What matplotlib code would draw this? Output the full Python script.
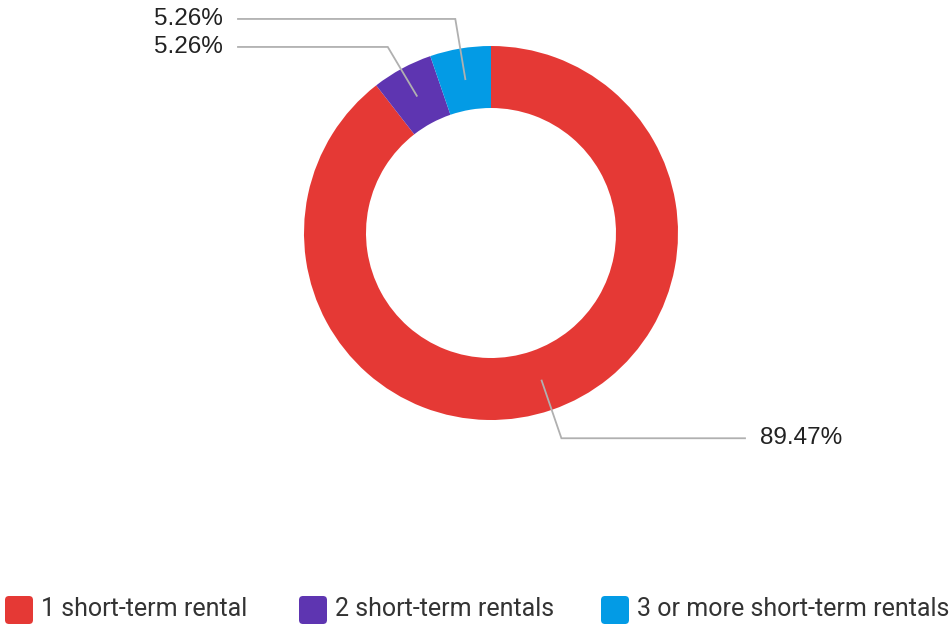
import numpy as np
import matplotlib
matplotlib.use("Agg")
import matplotlib.pyplot as plt
from matplotlib.patches import FancyBboxPatch

categories = ["1 short-term rental", "2 short-term rentals", "3 or more short-term rentals"]
shares = [89.47, 5.26, 5.26]
labels = ["89.47%", "5.26%", "5.26%"]
colors = ["#E53935", "#5E35B1", "#039BE5"]

W, H = 951, 625
fig = plt.figure(figsize=(W / 100, H / 100), dpi=100, facecolor="white")
ax = fig.add_axes([0, 0, 1, 1])

cx, cy = 491, H - 233
r_out, r_in = 187, 125

wedges, _ = ax.pie(shares, colors=colors, startangle=90, counterclock=False,
                   radius=r_out, center=(cx, cy),
                   wedgeprops=dict(width=r_out - r_in, edgecolor="none"))

ax.set_xlim(0, W)
ax.set_ylim(0, H)
ax.set_aspect("equal")
ax.axis("off")

# leader lines + labels; labels on one side pushed down so they don't collide
line_c = "#b0b0b0"
r_mid, r_elb, gap = 156, 217, 28
items = []
for w, lab in zip(wedges, labels):
    a = np.radians((w.theta1 + w.theta2) / 2)
    items.append(dict(a=a, lab=lab, right=np.cos(a) >= 0,
                      y1=cy + r_elb * np.sin(a)))
for side in (True, False):
    grp = sorted([it for it in items if it["right"] == side], key=lambda d: -d["y1"])
    for prev, cur in zip(grp, grp[1:]):
        if prev["y1"] - cur["y1"] < gap:
            cur["y1"] = prev["y1"] - gap

for it in items:
    a, y1 = it["a"], it["y1"]
    x0, y0 = cx + r_mid * np.cos(a), cy + r_mid * np.sin(a)
    x1 = cx + r_elb * np.cos(a)
    if it["right"]:
        x2, tx, ha = 745, 760, "left"
    else:
        x2, tx, ha = 238, 223, "right"
    ax.plot([x0, x1, x2], [y0, y1, y1], color=line_c, lw=1.3,
            solid_joinstyle="miter", zorder=3)
    ax.text(tx, y1, it["lab"], ha=ha, va="center", fontsize=17.5,
            family="Liberation Sans", color="#222222")

# legend
leg_x = [5, 299, 601]
for x, c, name in zip(leg_x, colors, categories):
    ax.add_patch(FancyBboxPatch((x + 4, H - 620), 20, 20,
                                boxstyle="round,pad=4", fc=c, ec="none"))
    ax.text(x + 36, H - 609, name, ha="left", va="center", fontsize=18,
            family="Roboto", color="#333333")

fig.savefig("out.png", dpi=100, facecolor="white")
